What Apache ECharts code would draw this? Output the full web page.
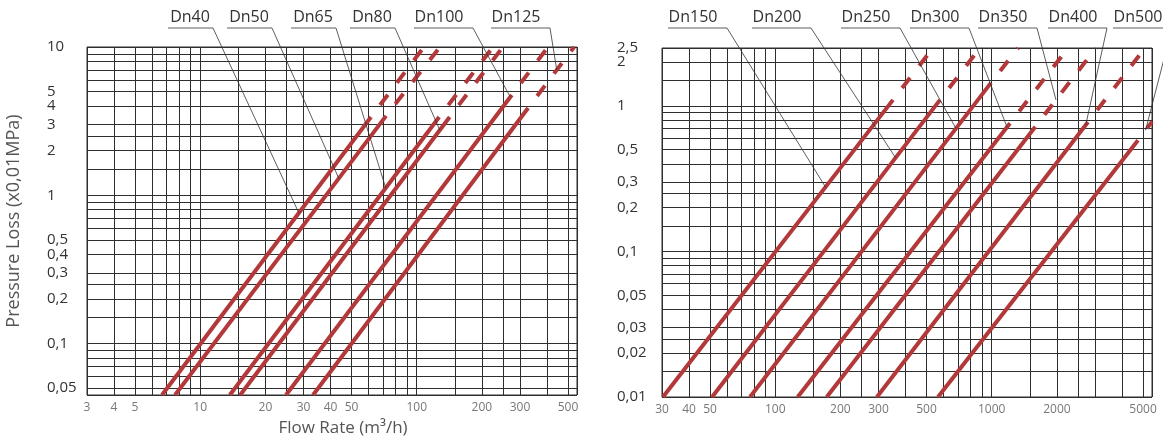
<!DOCTYPE html>
<html><head><meta charset="utf-8">
<script src="https://cdn.jsdelivr.net/npm/echarts@6/dist/echarts.min.js"></script>
<style>html,body{margin:0;padding:0;background:#fff}#c{width:1163px;height:446px}</style>
</head><body><div id="c"></div>
<script>
// ---------------- data ----------------
const leftXTicks = [3, 4, 5, 10, 20, 30, 40, 50, 100, 200, 300, 500];
const leftYTicks = [0.05, 0.1, 0.2, 0.3, 0.4, 0.5, 1, 2, 3, 4, 5, 10];
const rightXTicks = [30, 40, 50, 100, 200, 300, 500, 1000, 2000, 5000];
const rightYTicks = [0.01, 0.02, 0.03, 0.05, 0.1, 0.2, 0.3, 0.5, 1, 2, 2.5];

const leftNames = ['Dn40', 'Dn50', 'Dn65', 'Dn80', 'Dn100', 'Dn125'];
const rightNames = ['Dn150', 'Dn200', 'Dn250', 'Dn300', 'Dn350', 'Dn400', 'Dn500'];

// each curve: [start, end of solid part, end of dashed part] as [flow m3/h, pressure loss x0.01MPa]
const dn40 = [[6.66, 0.045], [61.5, 3.37], [108, 10]];
const dn50 = [[7.65, 0.045], [72.2, 3.43], [128, 10]];
const dn65 = [[13.7, 0.045], [127, 3.37], [225, 10]];
const dn80 = [[15.3, 0.045], [142, 3.37], [250, 10]];
const dn100 = [[24.9, 0.045], [275, 4.75], [404, 10]];
const dn125 = [[33.2, 0.045], [327, 3.88], [533, 10]];
const dn150 = [[30.3, 0.01], [350, 1.10], [535, 2.5]];
const dn200 = [[51.1, 0.01], [577, 1.10], [882, 2.5]];
const dn250 = [[76.5, 0.01], [992, 1.44], [1323, 2.5]];
const dn300 = [[127, 0.01], [1215, 0.76], [2250, 2.5]];
const dn350 = [[173, 0.01], [1590, 0.72], [3030, 2.5]];
const dn400 = [[295, 0.01], [2785, 0.775], [5100, 2.5]];
const dn500 = [[565, 0.01], [4740, 0.58], [5500, 0.78]];

// pressure value where each label's leader line touches its curve
const leftLeaderP = [0.76, 1.3, 1.12, 2.75, 4.6, 7.0];
const rightLeaderP = [0.277, 0.44, 0.70, 0.715, 1.10, 0.74, 0.68];

// ---------------- layout ----------------
const leftLabelX = [190, 249, 313, 372, 439, 516];
const rightLabelX = [693, 777, 866, 935, 1003, 1073, 1138];
const RED = '#b3383a';
const GRIDC = '#2e2e2e';
const FONT = '"Open Sans", "DejaVu Sans", sans-serif';

const L10 = Math.log10;
const toLog = pts => pts.map(p => [L10(p[0]), L10(p[1])]);
const fmt = v => String(parseFloat(Math.pow(10, v).toPrecision(3))).replace('.', ',');
const mant = [1, 1.5, 2, 2.5, 3, 4, 5, 6, 7, 8, 9];
function gridVals(lo, hi) {
  const out = [L10(lo), L10(hi)];
  for (let e = -3; e <= 4; e++) for (const m of mant) {
    const v = m * Math.pow(10, e);
    if (v > lo * 1.0001 && v < hi * 0.9999) out.push(L10(v));
  }
  return out.sort((a, b) => a - b);
}

function xAxis(gi, lo, hi, labels, extra) {
  return Object.assign({
    type: 'value', gridIndex: gi, min: L10(lo), max: L10(hi),
    axisLine: { show: false },
    axisTick: { show: false, customValues: gridVals(lo, hi) },
    splitLine: { show: true, lineStyle: { color: GRIDC, width: 1 } },
    axisLabel: { customValues: labels.map(L10), formatter: fmt, color: '#777', fontSize: 12,
      margin: 7, hideOverlap: false, showMinLabel: true, showMaxLabel: true, fontFamily: FONT }
  }, extra || {});
}
function yAxis(gi, lo, hi, labels, margin, extra, noGrid) {
  return Object.assign({
    type: 'value', gridIndex: gi, min: L10(lo), max: L10(hi), position: 'left', offset: 0,
    axisLine: { show: false },
    axisTick: { show: false, customValues: gridVals(lo, hi) },
    splitLine: { show: !noGrid, lineStyle: { color: GRIDC, width: 1 } },
    axisLabel: { customValues: labels.map(L10), formatter: fmt, color: '#333', fontSize: 15,
      lineHeight: 11, align: 'left', margin: margin, hideOverlap: false,
      showMinLabel: true, showMaxLabel: true, fontFamily: FONT }
  }, extra || {});
}

const leftCurves = [dn40, dn50, dn65, dn80, dn100, dn125];
const rightCurves = [dn150, dn200, dn250, dn300, dn350, dn400, dn500];

function curveSeries(name, pts, gi) {
  const base = { type: 'line', xAxisIndex: gi, yAxisIndex: gi, symbol: 'none', silent: true, animation: false, z: 5 };
  return [
    Object.assign({}, base, { name: name, data: toLog(pts.slice(0, 2)),
      lineStyle: { color: RED, width: 4 } }),
    Object.assign({}, base, { name: name + ' ext', data: toLog(pts.slice(1, 3)),
      lineStyle: { color: RED, width: 4, type: [13, 15], dashOffset: 13, cap: 'butt' } })
  ];
}

const series = [];
leftNames.forEach((n, i) => series.push(...curveSeries(n, leftCurves[i], 0)));
rightNames.forEach((n, i) => series.push(...curveSeries(n, rightCurves[i], 1)));

const rightYMain = rightYTicks.slice(0, -1);   // all but the top label
const rightYTop = rightYTicks.slice(-1);       // top label (own axis so it is not hidden by overlap)

const chart = echarts.init(document.getElementById('c'), null, { renderer: 'canvas' });
chart.setOption({
  backgroundColor: '#fff',
  animation: false,
  grid: [
    { left: 87, top: 47, width: 490, height: 348, show: true, borderColor: GRIDC, borderWidth: 1, containLabel: false, outerBoundsMode: 'none' },
    { left: 662, top: 48, width: 490, height: 349, show: true, borderColor: GRIDC, borderWidth: 1, containLabel: false, outerBoundsMode: 'none' }
  ],
  xAxis: [
    xAxis(0, 3, 550, leftXTicks, {
      name: 'Flow Rate (m³/h)', nameLocation: 'middle', nameGap: 25,
      nameTextStyle: { fontSize: 17, color: '#555', fontFamily: FONT, padding: [0, 0, 0, 22] }
    }),
    xAxis(1, 30, 5500, rightXTicks)
  ],
  yAxis: [
    yAxis(0, 0.045, 10, leftYTicks, 40, {
      name: 'Pressure Loss (x0,01MPa)', nameLocation: 'middle', nameGap: 64,
      nameTextStyle: { fontSize: 18, color: '#555', fontFamily: FONT }
    }),
    yAxis(1, 0.01, 2.5, rightYMain, 45),
    yAxis(1, 0.01, 2.5, rightYTop, 45, null, true)
  ],
  series: series
});

function pointAt(pts, P) {
  const lp = L10(P), lg = toLog(pts);
  for (let i = 0; i < lg.length - 1; i++) {
    const a = lg[i], b = lg[i + 1];
    if (lp >= a[1] && lp <= b[1]) {
      const t = (lp - a[1]) / (b[1] - a[1]);
      return [a[0] + t * (b[0] - a[0]), lp];
    }
  }
  return lg[lg.length - 1];
}

const graphics = [];
function addLabels(names, curves, Ps, xs, gi) {
  names.forEach((n, i) => {
    const anchor = chart.convertToPixel({ xAxisIndex: gi, yAxisIndex: gi }, pointAt(curves[i], Ps[i]));
    const half = n.length > 4 ? 25 : 22, extra = n.length > 4 ? 9 : 1;
    const x0 = xs[i] - half, x1 = xs[i] + half + extra;
    graphics.push({ type: 'polyline', silent: true, z: 100,
      shape: { points: [[x0, 28], [x1, 28], anchor] },
      style: { stroke: '#333', lineWidth: 0.8, fill: 'none' } });
    graphics.push({ type: 'text', silent: true, z: 100,
      style: { text: n, x: xs[i], y: 17, align: 'center', textAlign: 'center',
        verticalAlign: 'middle', textVerticalAlign: 'middle',
        font: '16px ' + FONT, fill: '#333' } });
  });
}
addLabels(leftNames, leftCurves, leftLeaderP, leftLabelX, 0);
addLabels(rightNames, rightCurves, rightLeaderP, rightLabelX, 1);
chart.setOption({ graphic: graphics });
</script>
</body></html>
